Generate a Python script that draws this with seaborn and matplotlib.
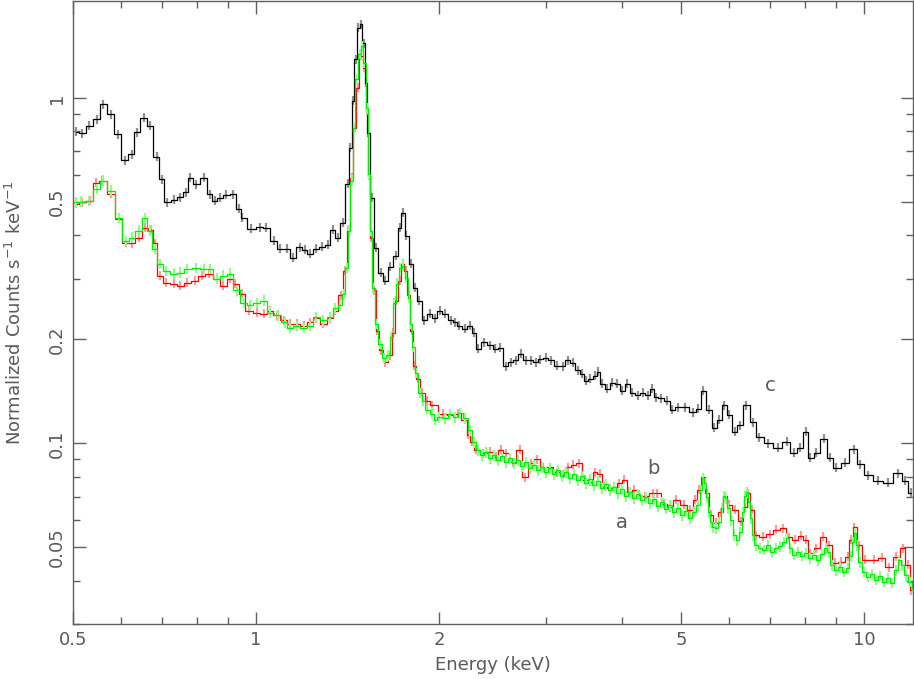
import numpy as np
import matplotlib
matplotlib.use("Agg")
import matplotlib.pyplot as plt
import seaborn as sns
from matplotlib.ticker import FixedLocator, LogLocator, NullFormatter

# spectrum c (black), bin centres in keV and normalized counts
black_energy = [0.505, 0.517, 0.532, 0.547, 0.561, 0.577, 0.593, 0.608, 0.624, 0.638,
                0.653, 0.669, 0.686, 0.700, 0.714, 0.733, 0.751, 0.766, 0.780, 0.798,
                0.820, 0.839, 0.855, 0.873, 0.894, 0.918, 0.936, 0.950, 0.981, 1.015,
                1.040, 1.069, 1.095, 1.123, 1.152, 1.179, 1.202, 1.227, 1.257, 1.286,
                1.311, 1.336, 1.362, 1.388, 1.417, 1.430, 1.444, 1.458, 1.472, 1.488,
                1.505, 1.517, 1.531, 1.549, 1.575, 1.605, 1.630, 1.661, 1.696, 1.722,
                1.742, 1.768, 1.798, 1.826, 1.854, 1.889, 1.929, 1.966, 2.004, 2.046,
                2.089, 2.125, 2.161, 2.203, 2.245, 2.279, 2.314, 2.367, 2.426, 2.473,
                2.524, 2.573, 2.622, 2.673, 2.723, 2.775, 2.828, 2.883, 2.937, 2.994,
                3.051, 3.121, 3.193, 3.254, 3.316, 3.380, 3.443, 3.496, 3.549, 3.610,
                3.658, 3.714, 3.785, 3.857, 3.931, 4.006, 4.083, 4.161, 4.242, 4.323,
                4.405, 4.473, 4.541, 4.628, 4.734, 4.842, 4.935, 5.077, 5.233, 5.343,
                5.445, 5.570, 5.676, 5.784, 5.895, 6.008, 6.124, 6.253, 6.408, 6.556,
                6.720, 6.953, 7.222, 7.458, 7.659, 7.849, 8.015, 8.166, 8.354, 8.579,
                8.776, 8.995, 9.307, 9.611, 9.849, 10.15, 10.54, 10.95, 11.37, 11.70,
                11.93]
black_flux = [0.797, 0.790, 0.830, 0.868, 0.959, 0.897, 0.785, 0.661, 0.688, 0.794,
              0.877, 0.830, 0.675, 0.582, 0.498, 0.507, 0.516, 0.533, 0.588, 0.563,
              0.588, 0.527, 0.504, 0.514, 0.524, 0.527, 0.478, 0.450, 0.418, 0.423,
              0.421, 0.386, 0.366, 0.366, 0.345, 0.369, 0.364, 0.354, 0.366, 0.371,
              0.376, 0.415, 0.394, 0.435, 0.564, 0.717, 0.980, 1.296, 1.594, 1.636,
              1.442, 1.105, 0.792, 0.514, 0.368, 0.312, 0.296, 0.325, 0.349, 0.421,
              0.465, 0.399, 0.331, 0.282, 0.259, 0.227, 0.237, 0.230, 0.242, 0.237,
              0.227, 0.224, 0.219, 0.215, 0.219, 0.209, 0.188, 0.196, 0.192, 0.188,
              0.189, 0.167, 0.172, 0.174, 0.182, 0.174, 0.174, 0.172, 0.175, 0.177,
              0.174, 0.168, 0.167, 0.174, 0.171, 0.163, 0.159, 0.152, 0.154, 0.157,
              0.161, 0.149, 0.144, 0.150, 0.149, 0.142, 0.149, 0.140, 0.138, 0.140,
              0.138, 0.144, 0.136, 0.135, 0.133, 0.125, 0.127, 0.127, 0.123, 0.126,
              0.142, 0.125, 0.111, 0.117, 0.129, 0.121, 0.108, 0.113, 0.129, 0.115,
              0.104, 0.100, 0.097, 0.101, 0.094, 0.097, 0.108, 0.091, 0.094, 0.103,
              0.091, 0.085, 0.088, 0.096, 0.087, 0.081, 0.078, 0.077, 0.082, 0.078,
              0.072]

# spectrum b (red)
red_energy = [0.505, 0.518, 0.533, 0.545, 0.559, 0.577, 0.594, 0.610, 0.624, 0.641,
              0.657, 0.671, 0.682, 0.695, 0.712, 0.732, 0.750, 0.771, 0.794, 0.814,
              0.837, 0.861, 0.884, 0.906, 0.925, 0.947, 0.974, 1.002, 1.029, 1.054,
              1.081, 1.110, 1.137, 1.166, 1.197, 1.227, 1.257, 1.291, 1.323, 1.351,
              1.377, 1.400, 1.419, 1.436, 1.452, 1.469, 1.488, 1.507, 1.521, 1.533,
              1.548, 1.566, 1.584, 1.605, 1.632, 1.661, 1.683, 1.702, 1.722, 1.742,
              1.762, 1.782, 1.803, 1.822, 1.847, 1.878, 1.912, 1.947, 2.034, 2.085,
              2.148, 2.207, 2.236, 2.262, 2.304, 2.364, 2.426, 2.478, 2.525, 2.573,
              2.643, 2.714, 2.771, 2.828, 2.894, 2.966, 3.045, 3.121, 3.193, 3.254,
              3.328, 3.403, 3.473, 3.546, 3.610, 3.674, 3.752, 3.816, 3.883, 3.958,
              4.032, 4.112, 4.189, 4.267, 4.370, 4.489, 4.574, 4.681, 4.794, 4.908,
              5.049, 5.173, 5.280, 5.357, 5.434, 5.517, 5.601, 5.709, 5.815, 5.903,
              6.006, 6.136, 6.270, 6.373, 6.445, 6.536, 6.648, 6.810, 6.993, 7.179,
              7.360, 7.527, 7.700, 7.864, 8.015, 8.166, 8.354, 8.562, 8.758, 8.960,
              9.183, 9.40, 9.52, 9.64, 9.81, 10.05, 10.38, 10.69, 10.99, 11.31,
              11.59, 11.81, 11.97]
red_flux = [0.494, 0.498, 0.504, 0.568, 0.576, 0.528, 0.447, 0.381, 0.379, 0.394,
            0.421, 0.415, 0.379, 0.306, 0.292, 0.290, 0.286, 0.292, 0.296, 0.306,
            0.310, 0.300, 0.286, 0.300, 0.290, 0.271, 0.242, 0.239, 0.237, 0.242,
            0.235, 0.227, 0.222, 0.222, 0.219, 0.224, 0.230, 0.222, 0.230, 0.242,
            0.268, 0.316, 0.413, 0.587, 0.819, 1.069, 1.323, 1.221, 0.917, 0.595,
            0.394, 0.277, 0.212, 0.186, 0.172, 0.180, 0.209, 0.259, 0.296, 0.331,
            0.316, 0.268, 0.212, 0.168, 0.154, 0.140, 0.133, 0.129, 0.122, 0.121,
            0.122, 0.117, 0.106, 0.101, 0.0958, 0.0938, 0.0945, 0.0915, 0.0958, 0.0938,
            0.0881, 0.0958, 0.0799, 0.0875, 0.0900, 0.0852, 0.0852, 0.0824, 0.0811, 0.0852,
            0.0867, 0.0875, 0.0784, 0.0774, 0.0824, 0.0816, 0.0748, 0.0742, 0.0748, 0.0768,
            0.0784, 0.0725, 0.0734, 0.0710, 0.0702, 0.0718, 0.0718, 0.0669, 0.0653, 0.0686,
            0.0664, 0.0642, 0.0686, 0.0734, 0.0797, 0.0718, 0.0621, 0.0590, 0.0632, 0.0702,
            0.0664, 0.0642, 0.0595, 0.0653, 0.0718, 0.0642, 0.0542, 0.0537, 0.0545, 0.0562,
            0.0567, 0.0534, 0.0526, 0.0540, 0.0526, 0.0481, 0.0497, 0.0537, 0.0508, 0.0451,
            0.0454, 0.0470, 0.0526, 0.0572, 0.0508, 0.0460, 0.0460, 0.0466, 0.0438, 0.0470,
            0.0497, 0.0445, 0.0376]

# spectrum a (green)
green_energy = [0.505, 0.516, 0.531, 0.547, 0.561, 0.577, 0.594, 0.610, 0.624, 0.641,
                0.656, 0.669, 0.682, 0.695, 0.712, 0.732, 0.750, 0.771, 0.797, 0.820,
                0.840, 0.861, 0.884, 0.906, 0.929, 0.954, 0.978, 1.002, 1.029, 1.054,
                1.085, 1.114, 1.137, 1.166, 1.197, 1.227, 1.257, 1.291, 1.323, 1.351,
                1.374, 1.393, 1.409, 1.422, 1.436, 1.450, 1.463, 1.480, 1.494, 1.507,
                1.521, 1.533, 1.545, 1.560, 1.578, 1.600, 1.626, 1.650, 1.670, 1.689,
                1.708, 1.728, 1.748, 1.768, 1.785, 1.798, 1.815, 1.836, 1.860, 1.884,
                1.912, 1.948, 1.973, 1.996, 2.046, 2.085, 2.125, 2.165, 2.207, 2.249,
                2.284, 2.318, 2.353, 2.389, 2.426, 2.463, 2.500, 2.538, 2.577, 2.616,
                2.657, 2.697, 2.739, 2.780, 2.823, 2.866, 2.910, 2.954, 2.999, 3.045,
                3.091, 3.138, 3.186, 3.235, 3.284, 3.334, 3.385, 3.437, 3.489, 3.542,
                3.597, 3.652, 3.707, 3.764, 3.821, 3.880, 3.939, 3.999, 4.060, 4.122,
                4.185, 4.249, 4.314, 4.380, 4.446, 4.514, 4.584, 4.654, 4.725, 4.797,
                4.870, 4.945, 5.020, 5.097, 5.175, 5.254, 5.334, 5.395, 5.436, 5.478,
                5.519, 5.561, 5.603, 5.645, 5.710, 5.775, 5.841, 5.885, 5.930, 5.975,
                6.043, 6.113, 6.182, 6.253, 6.324, 6.372, 6.421, 6.470, 6.518, 6.568,
                6.643, 6.745, 6.848, 6.953, 7.060, 7.167, 7.277, 7.388, 7.473, 7.558,
                7.674, 7.790, 7.907, 8.027, 8.151, 8.276, 8.401, 8.530, 8.660, 8.759,
                8.859, 8.995, 9.130, 9.271, 9.412, 9.520, 9.592, 9.665, 9.739, 9.849,
                10.00, 10.15, 10.31, 10.46, 10.62, 10.79, 10.95, 11.12, 11.29, 11.42,
                11.55, 11.73, 11.91, 12.04]
green_flux = [0.498, 0.501, 0.504, 0.546, 0.576, 0.539, 0.450, 0.386, 0.394, 0.413,
              0.450, 0.413, 0.366, 0.331, 0.316, 0.310, 0.312, 0.320, 0.322, 0.320,
              0.320, 0.300, 0.306, 0.310, 0.277, 0.255, 0.251, 0.255, 0.259, 0.239,
              0.235, 0.224, 0.216, 0.219, 0.216, 0.219, 0.232, 0.227, 0.232, 0.246,
              0.251, 0.271, 0.322, 0.413, 0.576, 0.819, 1.135, 1.340, 1.413, 1.262,
              0.936, 0.603, 0.413, 0.282, 0.222, 0.194, 0.177, 0.180, 0.203, 0.254,
              0.290, 0.322, 0.327, 0.302, 0.264, 0.222, 0.190, 0.160, 0.140, 0.133,
              0.125, 0.122, 0.117, 0.119, 0.1181, 0.1213, 0.1189, 0.1221, 0.1181, 0.1091,
              0.1007, 0.0954, 0.0923, 0.0942, 0.0905, 0.0923, 0.0893, 0.0917, 0.0881, 0.0905,
              0.0876, 0.0893, 0.0858, 0.0881, 0.0847, 0.0864, 0.0836, 0.0852, 0.0824, 0.0847,
              0.0813, 0.0836, 0.0803, 0.0824, 0.0792, 0.0813, 0.0781, 0.0803, 0.0766, 0.0787,
              0.0756, 0.0777, 0.0741, 0.0761, 0.0731, 0.0746, 0.0717, 0.0736, 0.0703, 0.0722,
              0.0693, 0.0712, 0.0684, 0.0698, 0.0671, 0.0689, 0.0658, 0.0675, 0.0645, 0.0662,
              0.0632, 0.0649, 0.0619, 0.0636, 0.0607, 0.0632, 0.0662, 0.0731, 0.0792, 0.0766,
              0.0698, 0.0632, 0.0591, 0.0572, 0.0568, 0.0591, 0.0649, 0.0703, 0.0693, 0.0649,
              0.0599, 0.0542, 0.0524, 0.0553, 0.0632, 0.0703, 0.0722, 0.0675, 0.0607, 0.0542,
              0.0507, 0.0497, 0.0491, 0.0507, 0.0484, 0.0497, 0.0504, 0.0518, 0.0531, 0.0497,
              0.0475, 0.0484, 0.0472, 0.0481, 0.0465, 0.0475, 0.0459, 0.0478, 0.0497, 0.0484,
              0.0444, 0.0429, 0.0438, 0.0424, 0.0435, 0.0472, 0.0518, 0.0549, 0.0507, 0.0453,
              0.0424, 0.0410, 0.0418, 0.0402, 0.0413, 0.0397, 0.0407, 0.0394, 0.0429, 0.0459,
              0.0444, 0.0415, 0.0397, 0.0381]

x_ticks = [0.5, 1, 2, 5, 10]
x_labels = ["0.5", "1", "2", "5", "10"]
y_ticks = [0.05, 0.1, 0.2, 0.5, 1]
y_labels = ["0.05", "0.1", "0.2", "0.5", "1"]

curve_names = ["a", "b", "c"]
curve_label_pos = [(4.0, 0.0591), (4.5, 0.0847), (7.0, 0.147)]

sns.set_style("ticks")
plt.rcParams['font.family'] = ['DejaVu Sans']
text_col = "#5a5a5a"
axis_col = "#606060"

fig = plt.figure(figsize=(9.14, 6.79), dpi=100)
ax = fig.add_axes([0.0799, 0.081, 0.9190, 0.9175])
ax.set_xscale("log")
ax.set_yscale("log")

spectra = [
    (black_energy, black_flux, "#000000", "#909090", 0.03),
    (red_energy, red_flux, "#ff0000", "#ff9a9a", 0.03),
    (green_energy, green_flux, "#00ee00", "#8cff8c", 0.035),
]
for e, f, col, ecol, rel in spectra:
    e = np.array(e)
    f = np.array(f)
    ax.errorbar(e, f, yerr=rel * f, fmt="none", ecolor=ecol, elinewidth=1.6, capsize=0)
    sns.lineplot(x=e, y=f, ax=ax, color=col, lw=0.9, drawstyle="steps-mid",
                 estimator=None, sort=False)

for name, (xx, yy) in zip(curve_names, curve_label_pos):
    ax.text(xx, yy, name, fontsize=14, color=text_col, ha="center", va="center")

ax.set_xlim(0.5, 12.04)
ax.set_ylim(0.0300, 1.907)

ax.xaxis.set_major_locator(FixedLocator(x_ticks))
ax.set_xticklabels(x_labels)
ax.xaxis.set_minor_locator(LogLocator(base=10, subs=np.arange(2, 10)))
ax.xaxis.set_minor_formatter(NullFormatter())
ax.yaxis.set_major_locator(FixedLocator(y_ticks))
ax.set_yticklabels(y_labels, rotation=90, va="center")
ax.yaxis.set_minor_locator(LogLocator(base=10, subs=np.arange(2, 10)))
ax.yaxis.set_minor_formatter(NullFormatter())

ax.tick_params(which="both", direction="in", top=True, right=True,
               color=axis_col, width=1, labelsize=13, labelcolor=text_col, pad=5)
ax.tick_params(which="major", length=9)
ax.tick_params(which="minor", length=5)
for sp in ax.spines.values():
    sp.set_color(axis_col)
    sp.set_linewidth(1)

ax.set_xlabel("Energy (keV)", fontsize=13, color=text_col)
ax.set_ylabel("Normalized Counts s$^{-1}$ keV$^{-1}$", fontsize=13, color=text_col)
ax.xaxis.set_label_coords(0.5, -0.051)
ax.yaxis.set_label_coords(-0.057, 0.5)

fig.savefig("out.png", dpi=100)
